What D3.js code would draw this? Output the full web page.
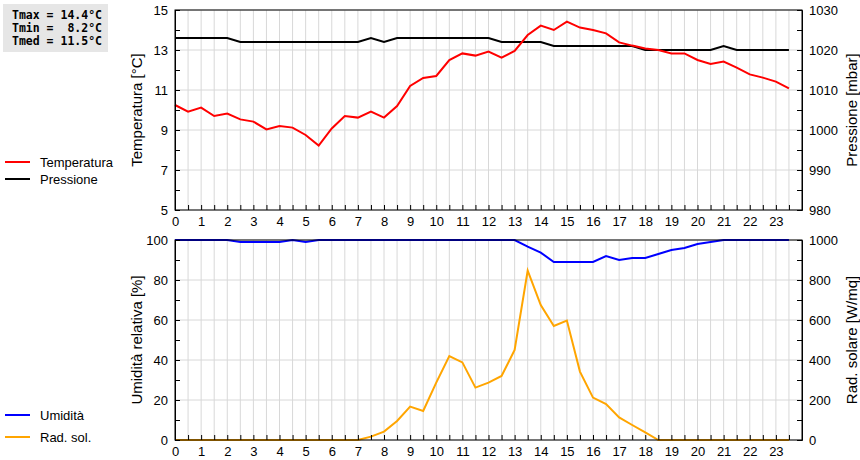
<!DOCTYPE html>
<html><head><meta charset="utf-8">
<script src="https://cdn.jsdelivr.net/npm/d3@7"></script>
<style>body{margin:0;background:#fff}text{font-family:Arial,"Liberation Sans",sans-serif}</style>
</head><body><svg id="c" width="860" height="460"></svg>
<script>
const hours = d3.range(0, 24, 0.5);
const temperature = [10.25,9.92,10.12,9.7,9.82,9.53,9.42,9.03,9.2,9.12,8.75,8.22,9.08,9.7,9.62,9.92,9.62,10.2,11.2,11.6,11.7,12.5,12.83,12.72,12.92,12.62,12.95,13.75,14.22,14.0,14.42,14.12,14.0,13.83,13.38,13.22,13.08,13.0,12.83,12.83,12.5,12.3,12.42,12.12,11.78,11.62,11.42,11.08];
const pressure = [1023,1023,1023,1023,1023,1022,1022,1022,1022,1022,1022,1022,1022,1022,1022,1023,1022,1023,1023,1023,1023,1023,1023,1023,1023,1022,1022,1022,1022,1021,1021,1021,1021,1021,1021,1021,1020,1020,1020,1020,1020,1020,1021,1020,1020,1020,1020,1020];
const humidity = [100,100,100,100,100,99,99,99,99,100,99,100,100,100,100,100,100,100,100,100,100,100,100,100,100,100,100,96.7,93.7,89,89,89,89,92,90,91,91,93,95,96,98,99,100,100,100,100,100,100];
const radiation = [0,0,0,0,0,0,0,0,0,0,0,0,0,0,0,17,42,95,167,145,287,420,388,262,287,320,450,847,675,570,597,342,212,180,113,75,38,0,0,0,0,0,0,0,0,0,0,0];
const hourLabels = d3.range(0, 24);
const stats = ["Tmax = 14.4°C","Tmin =  8.2°C","Tmed = 11.5°C"];

const svg = d3.select("#c");
const L = 175, R = 802;
const x = d3.scaleLinear().domain([0,24]).range([L,R]);

function panel(top, bot, yl, yr, majL, minL, majR, minR, titleL, titleR, series, legend){
  const g = svg.append("g");
  g.selectAll(".vg").data(d3.range(0.5,24,0.5)).join("line")
    .attr("x1",d=>x(d)).attr("x2",d=>x(d)).attr("y1",top).attr("y2",bot).attr("stroke","#d8d8d8");
  g.selectAll(".hg").data(majL).join("line")
    .attr("x1",L).attr("x2",R).attr("y1",d=>yl(d)).attr("y2",d=>yl(d)).attr("stroke","#d8d8d8");
  series.forEach(s=>{
    g.append("path").datum(s.v).attr("fill","none").attr("stroke",s.c).attr("stroke-width",2)
      .attr("d", d3.line().x((d,i)=>x(hours[i])).y(d=>s.y(d)));
  });
  g.append("g").attr("transform",`translate(0,${bot})`)
    .call(d3.axisBottom(x).tickValues(d3.range(0.5,24,0.5)).tickSize(-5).tickFormat(""))
    .call(a=>a.select(".domain").remove());
  g.append("g").attr("transform",`translate(0,${bot})`)
    .call(d3.axisBottom(x).tickValues(hourLabels).tickSize(0).tickPadding(7).tickFormat(d3.format("d")))
    .call(a=>a.select(".domain").remove());
  g.append("g").attr("transform",`translate(${L},0)`)
    .call(d3.axisLeft(yl).tickValues(minL).tickSize(-5).tickFormat(""));
  g.append("g").attr("transform",`translate(${L},0)`)
    .call(d3.axisLeft(yl).tickValues(majL).tickSize(0).tickPadding(7).tickFormat(d3.format("d")))
    .call(a=>a.select(".domain").remove());
  g.append("g").attr("transform",`translate(${R},0)`)
    .call(d3.axisRight(yr).tickValues(minR).tickSize(-5).tickFormat(""));
  g.append("g").attr("transform",`translate(${R},0)`)
    .call(d3.axisRight(yr).tickValues(majR).tickSize(0).tickPadding(7).tickFormat(d3.format("d")))
    .call(a=>a.select(".domain").remove());
  g.selectAll(".tick text").attr("font-size",13).attr("fill","#000");
  g.append("rect").attr("x",L).attr("y",top).attr("width",R-L).attr("height",bot-top)
    .attr("fill","none").attr("stroke","#000");
  const mid=(top+bot)/2;
  g.append("text").attr("transform",`translate(142,${mid}) rotate(-90)`).attr("text-anchor","middle")
    .attr("font-size",15).text(titleL);
  g.append("text").attr("transform",`translate(857,${mid}) rotate(-90)`).attr("text-anchor","middle")
    .attr("font-size",15).text(titleR);
  legend.forEach(l=>{
    g.append("line").attr("x1",5).attr("x2",30).attr("y1",l.y).attr("y2",l.y).attr("stroke",l.c).attr("stroke-width",2);
    g.append("text").attr("x",40).attr("y",l.y+5).attr("font-size",13).text(l.t);
  });
}

const yT = d3.scaleLinear().domain([5,15]).range([210,10]);
const yP = d3.scaleLinear().domain([980,1030]).range([210,10]);
panel(10,210,yT,yP,[5,7,9,11,13,15],d3.range(5,16,1),d3.range(980,1031,10),d3.range(980,1031,5),
  "Temperatura [°C]","Pressione [mbar]",
  [{v:pressure,y:yP,c:"#000"},{v:temperature,y:yT,c:"#f00"}],
  [{y:162,c:"#f00",t:"Temperatura"},{y:179,c:"#000",t:"Pressione"}]);

const yH = d3.scaleLinear().domain([0,100]).range([440,240]);
const yR = d3.scaleLinear().domain([0,1000]).range([440,240]);
panel(240,440,yH,yR,d3.range(0,101,20),d3.range(0,101,10),d3.range(0,1001,200),d3.range(0,1001,100),
  "Umidità relativa [%]","Rad. solare [W/mq]",
  [{v:radiation,y:yR,c:"#ffa500"},{v:humidity,y:yH,c:"#00f"}],
  [{y:415,c:"#00f",t:"Umidità"},{y:437,c:"#ffa500",t:"Rad. sol."}]);

svg.append("rect").attr("x",3).attr("y",4).attr("width",105).attr("height",48).attr("fill","#e6e6e6");
svg.selectAll(".st").data(stats).join("text").attr("x",12).attr("y",(d,i)=>19+i*13)
  .style("font-family","'DejaVu Sans Mono',monospace").style("font-weight","bold").style("font-size","11.5px")
  .style("white-space","pre").text(d=>d);
</script></body></html>
